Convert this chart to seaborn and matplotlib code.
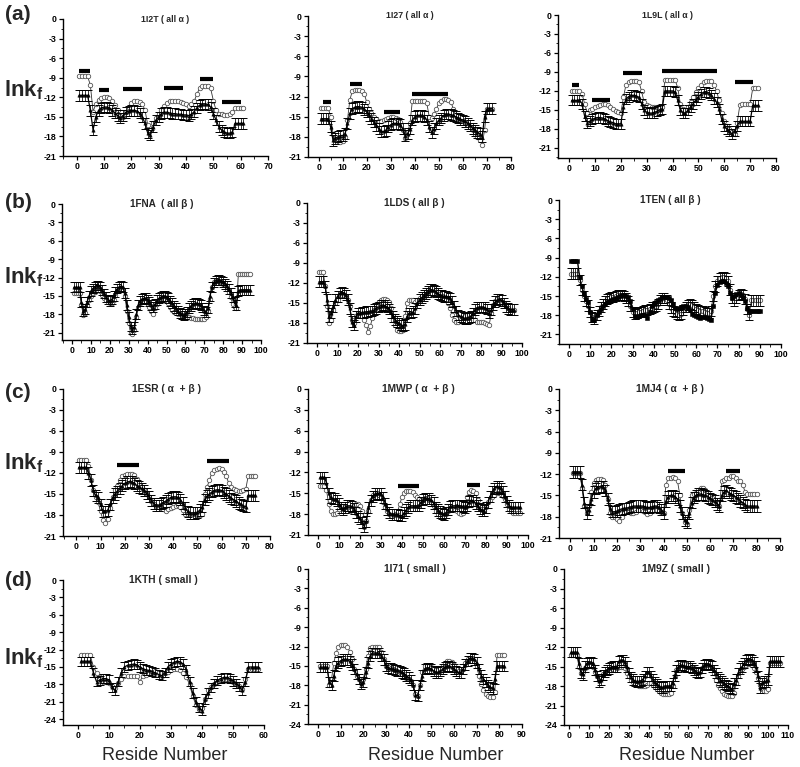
import numpy as np
import matplotlib
matplotlib.use("Agg")
import matplotlib.pyplot as plt
from matplotlib.ticker import MultipleLocator
import seaborn as sns

# ---------------- data (lnkf per residue) ----------------
c_1I2T = [-8.8,-8.8,-8.8,-8.8,-10.1,-14.2,-13.0,-12.4,-12.1,-12.0,
          -12.0,-12.1,-12.6,-13.2,-14.0,-14.8,-15.0,-14.2,-13.5,-12.9,
          -12.5,-12.5,-12.7,-13.0,-14.0,-16.2,-17.0,-16.0,-15.2,-14.5,
          -14.0,-13.3,-12.8,-12.6,-12.5,-12.5,-12.6,-12.7,-12.9,-13.1,
          -13.3,-13.0,-12.6,-11.5,-10.6,-10.2,-10.2,-10.3,-10.6,-12.5,
          -14.0,-14.6,-14.6,-14.7,-14.7,-14.6,-14.3,-13.6,-13.6,-13.6,-13.6]
e_1I2T = [-11.7,-11.7,-11.7,-11.7,-14.0,-17.0,-15.0,-14.0,-13.6,-13.5,
          -13.5,-13.6,-14.0,-14.4,-14.8,-15.2,-14.8,-14.3,-14.1,-14.0,
          -14.0,-14.1,-14.4,-15.0,-16.0,-17.5,-17.8,-16.5,-15.5,-15.0,
          -14.5,-14.3,-14.3,-14.4,-14.5,-14.5,-14.6,-14.6,-14.7,-14.7,
          -14.8,-14.6,-14.2,-13.6,-13.2,-13.0,-13.0,-13.1,-13.5,-14.5,
          -15.5,-16.5,-17.0,-17.3,-17.5,-17.5,-17.3,-16.0,-16.0,-16.0,-16.0]
bars_1I2T = [(1, 5, -7.9), (8, 12, -10.9), (17, 24, -10.8), (32, 39, -10.6), (45, 50, -9.2), (53, 60, -12.7)]

c_1I27 = [-13.7,-13.7,-13.7,-13.7,-15.0,-17.5,-18.3,-18.6,-18.7,-18.6,
          -18.0,-15.5,-12.5,-11.2,-11.0,-11.0,-11.0,-11.1,-11.6,-12.8,
          -13.8,-14.5,-15.0,-15.4,-15.6,-15.6,-15.5,-15.3,-15.2,-15.1,
          -15.1,-15.2,-15.4,-15.8,-17.0,-18.2,-17.3,-16.0,-12.6,-12.6,
          -12.6,-12.6,-12.6,-12.6,-13.0,-15.0,-15.2,-14.6,-13.8,-13.0,
          -12.6,-12.4,-12.4,-12.5,-12.8,-13.8,-14.8,-15.3,-15.6,-15.6,
          -15.8,-16.2,-16.6,-17.0,-17.5,-18.0,-18.5,-19.2,-17.0,-13.8,-13.8,-13.8]
e_1I27 = [-15.3,-15.3,-15.3,-15.3,-16.5,-18.5,-18.2,-18.0,-17.8,-17.8,
          -17.5,-16.0,-14.5,-13.8,-13.6,-13.5,-13.5,-13.6,-13.9,-14.3,
          -14.8,-15.3,-15.8,-16.3,-16.8,-17.2,-17.2,-17.0,-16.5,-16.2,
          -16.0,-16.0,-16.0,-16.2,-16.8,-17.8,-17.5,-16.8,-15.5,-15.0,
          -14.8,-14.8,-14.8,-15.0,-15.5,-16.5,-17.3,-16.8,-16.0,-15.5,
          -15.2,-14.8,-14.6,-14.6,-14.7,-14.8,-15.0,-15.2,-15.4,-15.5,
          -15.7,-16.0,-16.3,-16.7,-17.0,-17.3,-17.5,-18.0,-15.0,-13.8,-13.8,-13.8]
bars_1I27 = [(2, 5, -12.8), (13, 18, -10.1), (27, 34, -14.3), (39, 54, -11.6)]

c_1L9L = [-12.0,-12.0,-12.0,-12.0,-12.5,-14.0,-15.5,-15.0,-14.8,-14.6,
          -14.4,-14.2,-14.1,-14.0,-14.3,-14.6,-14.9,-15.2,-15.4,-15.5,
          -13.0,-11.0,-10.6,-10.4,-10.4,-10.4,-10.6,-12.0,-13.8,-14.3,
          -14.4,-14.5,-14.6,-14.6,-14.6,-14.5,-10.3,-10.3,-10.3,-10.3,
          -10.3,-11.5,-14.0,-14.8,-15.0,-14.5,-13.8,-13.0,-12.2,-11.5,
          -11.0,-10.6,-10.4,-10.4,-10.5,-11.0,-12.0,-13.5,-15.5,-16.8,
          -17.5,-18.0,-18.5,-18.8,-17.0,-14.3,-14.1,-14.1,-14.1,-14.1,-11.6,-11.6,-11.6]
e_1L9L = [-13.5,-13.5,-13.5,-13.5,-14.0,-16.0,-17.0,-16.8,-16.5,-16.3,
          -16.2,-16.2,-16.3,-16.5,-16.7,-16.9,-17.0,-17.2,-17.2,-17.2,
          -14.5,-13.3,-12.9,-12.7,-12.7,-12.8,-13.0,-14.0,-15.0,-15.4,
          -15.5,-15.5,-15.4,-15.2,-15.0,-14.8,-12.0,-12.0,-12.0,-12.0,
          -12.2,-13.5,-15.0,-15.5,-15.5,-15.0,-14.5,-14.0,-13.4,-12.9,
          -12.5,-12.2,-12.1,-12.3,-12.7,-13.2,-13.8,-14.8,-16.5,-17.5,
          -18.0,-18.4,-18.8,-18.3,-17.5,-16.8,-16.8,-16.8,-16.8,-16.8,-14.3,-14.3,-14.3]
bars_1L9L = [(1, 4, -11.0), (9, 16, -13.4), (21, 28, -9.1), (36, 57, -8.9), (64, 71, -10.6)]

c_1FNA = [-14.6,-14.6,-14.6,-14.6,-16.5,-18.2,-17.8,-16.5,-15.6,-15.0,
          -14.6,-14.3,-14.0,-14.0,-14.2,-14.8,-15.3,-15.7,-16.0,-16.2,
          -16.1,-15.6,-14.8,-14.2,-13.8,-13.7,-14.0,-15.0,-17.5,-19.5,
          -21.0,-21.2,-20.5,-18.5,-17.0,-16.2,-16.0,-15.9,-16.0,-16.3,
          -16.8,-17.5,-18.0,-17.0,-16.3,-15.8,-15.6,-15.4,-15.5,-15.8,
          -16.2,-16.8,-17.3,-17.6,-17.8,-17.9,-18.0,-18.2,-18.3,-18.3,
          -18.4,-18.5,-18.6,-18.6,-18.7,-18.7,-18.7,-18.8,-18.7,-18.8,
          -18.5,-17.5,-15.5,-13.5,-12.8,-12.6,-12.6,-12.6,-12.8,-13.0,
          -13.3,-13.8,-14.3,-15.2,-16.3,-16.8,-17.0,-11.5,-11.5,-11.5,
          -11.5,-11.5,-11.5,-11.5]
e_1FNA = [-13.6,-13.6,-13.6,-13.6,-16.0,-17.5,-17.2,-16.0,-15.0,-14.2,
          -13.8,-13.5,-13.3,-13.3,-13.5,-14.0,-14.6,-15.2,-15.6,-15.8,
          -15.6,-15.0,-14.3,-13.8,-13.5,-13.4,-13.6,-14.5,-16.5,-18.5,
          -20.0,-20.5,-20.0,-18.0,-16.5,-15.8,-15.5,-15.4,-15.4,-15.6,
          -15.9,-16.5,-16.8,-16.3,-15.7,-15.4,-15.2,-15.0,-15.0,-15.1,
          -15.4,-15.8,-16.2,-16.6,-17.0,-17.4,-17.8,-18.0,-18.2,-18.0,
          -17.6,-17.0,-16.6,-16.3,-16.2,-16.2,-16.3,-16.5,-16.9,-17.4,
          -17.6,-17.0,-15.0,-13.5,-12.8,-12.5,-12.4,-12.4,-12.5,-12.7,
          -13.0,-13.4,-13.9,-14.5,-15.2,-16.0,-16.5,-14.2,-14.0,-14.0,
          -14.0,-14.0,-14.0,-14.0]

c_1LDS = [-10.3,-10.3,-10.3,-12.5,-15.5,-18.0,-17.5,-16.0,-15.0,-14.5,
          -14.0,-13.8,-13.8,-14.0,-14.5,-15.5,-17.5,-18.0,-17.0,-16.5,
          -16.8,-17.0,-17.5,-18.3,-19.3,-18.5,-17.2,-16.0,-15.2,-14.8,
          -14.6,-14.4,-14.4,-14.5,-14.8,-15.8,-17.5,-18.3,-19.0,-19.2,
          -19.2,-19.0,-17.0,-15.0,-14.6,-14.6,-14.6,-14.8,-14.6,-14.3,
          -14.0,-13.6,-13.3,-13.0,-12.9,-12.8,-12.8,-13.0,-13.3,-13.6,
          -14.0,-14.2,-14.5,-15.0,-15.8,-16.8,-17.5,-17.8,-17.8,-17.6,
          -17.3,-17.0,-16.8,-16.6,-16.6,-17.0,-17.5,-17.8,-17.9,-17.9,
          -17.9,-18.0,-18.2,-18.3,-16.5,-15.3,-14.7,-14.4,-14.5,-14.8,
          -15.2,-15.5,-15.8,-16.0,-16.0,-16.0]
e_1LDS = [-11.8,-11.8,-11.8,-12.5,-14.5,-17.0,-16.5,-15.5,-14.5,-14.0,
          -13.5,-13.4,-13.5,-13.8,-14.5,-15.8,-17.8,-18.3,-17.0,-16.5,
          -16.5,-16.4,-16.4,-16.3,-16.3,-16.2,-16.2,-16.0,-15.8,-15.6,
          -15.4,-15.3,-15.4,-15.6,-15.9,-16.4,-17.0,-17.5,-17.8,-18.0,
          -18.3,-18.4,-18.2,-17.0,-16.5,-16.5,-16.3,-15.8,-15.0,-14.5,
          -14.2,-13.9,-13.6,-13.3,-13.0,-13.0,-13.1,-13.3,-13.6,-13.8,
          -13.9,-14.0,-14.0,-14.1,-14.3,-14.8,-15.5,-16.2,-16.8,-17.0,
          -17.2,-17.3,-17.3,-17.2,-17.0,-16.5,-16.0,-15.7,-15.6,-15.6,
          -15.6,-15.7,-15.9,-16.5,-16.0,-15.3,-14.8,-14.5,-14.4,-14.6,
          -15.0,-15.5,-15.8,-16.0,-16.0,-16.0]

c_1TEN = [-9.5,-9.5,-9.5,-9.5,-12.0,-13.5,-14.5,-15.5,-16.0,-17.5,
          -18.8,-18.8,-18.0,-17.5,-17.0,-16.6,-16.2,-16.0,-15.8,-15.6,
          -15.5,-15.3,-15.1,-15.0,-14.9,-14.9,-15.0,-15.2,-15.8,-17.0,
          -18.2,-18.3,-18.2,-18.0,-17.9,-18.0,-18.5,-17.5,-16.5,-16.2,
          -16.0,-15.7,-15.5,-15.2,-15.2,-15.2,-15.3,-15.6,-16.3,-16.8,
          -17.0,-16.8,-16.7,-16.6,-16.6,-16.7,-17.2,-17.8,-18.0,-18.2,
          -18.3,-18.4,-18.3,-18.3,-18.4,-18.6,-18.7,-16.5,-14.5,-13.3,
          -12.8,-12.6,-12.6,-12.9,-13.5,-14.5,-15.3,-15.0,-14.7,-14.6,
          -14.8,-15.2,-15.8,-16.8,-17.4,-17.4,-17.4,-17.4,-17.4,-17.4]
e_1TEN = [-11.5,-11.5,-11.5,-11.5,-12.5,-14.0,-15.0,-15.8,-16.5,-17.5,
          -18.3,-18.5,-18.0,-17.3,-16.7,-16.2,-15.8,-15.5,-15.3,-15.2,
          -15.1,-15.0,-14.8,-14.8,-14.8,-15.0,-15.3,-15.8,-16.5,-17.5,
          -17.8,-17.6,-17.5,-17.5,-17.3,-17.2,-17.2,-17.0,-16.8,-16.7,
          -16.6,-16.2,-15.6,-15.3,-15.3,-15.6,-16.3,-16.8,-17.3,-17.5,
          -17.8,-18.0,-17.8,-17.2,-16.7,-16.4,-16.3,-16.4,-16.7,-17.0,
          -17.2,-17.3,-17.4,-17.5,-17.6,-17.6,-17.3,-15.0,-13.5,-12.6,
          -12.2,-12.0,-12.0,-12.2,-12.7,-14.0,-15.3,-15.8,-15.3,-14.8,
          -14.7,-14.8,-15.5,-17.0,-18.0,-15.7,-15.7,-15.7,-15.7,-15.7]

c_1ESR = [-10.2,-10.2,-10.2,-10.2,-11.0,-13.0,-14.5,-15.5,-16.2,-17.5,
          -18.7,-19.2,-18.5,-17.0,-15.5,-14.5,-13.8,-13.0,-12.5,-12.3,
          -12.2,-12.2,-12.2,-12.3,-12.8,-13.5,-14.0,-14.5,-15.0,-15.5,
          -16.0,-16.5,-16.7,-16.8,-17.0,-17.2,-17.5,-17.2,-17.0,-16.8,
          -16.7,-16.6,-16.8,-17.3,-17.8,-17.9,-17.8,-17.8,-17.9,-18.0,
          -18.0,-17.8,-15.0,-14.0,-13.0,-12.0,-11.6,-11.4,-11.3,-11.4,
          -11.8,-12.5,-13.5,-14.0,-14.3,-14.5,-14.6,-14.6,-14.5,-14.3,
          -12.4,-12.4,-12.4,-12.4]
e_1ESR = [-11.2,-11.2,-11.2,-11.2,-12.0,-13.0,-14.5,-15.2,-15.5,-16.5,
          -17.5,-17.5,-17.3,-16.5,-15.5,-15.0,-14.6,-14.2,-13.8,-13.5,
          -13.3,-13.2,-13.3,-13.5,-13.8,-14.0,-14.2,-14.5,-14.9,-15.4,
          -15.9,-16.4,-16.6,-16.6,-16.4,-16.2,-16.0,-15.7,-15.5,-15.4,
          -15.4,-15.5,-15.8,-16.3,-17.0,-17.5,-17.7,-17.7,-17.7,-17.6,
          -17.3,-16.8,-15.8,-15.3,-15.0,-14.7,-14.5,-14.4,-14.4,-14.5,
          -14.8,-15.0,-15.3,-15.6,-15.8,-16.0,-16.3,-16.5,-16.7,-16.8,
          -15.2,-15.2,-15.2,-15.2]
bars_1ESR = [(17, 26, -10.9), (54, 63, -10.3)]

c_1MWP = [-14.0,-14.0,-14.0,-14.5,-16.5,-17.5,-18.0,-18.0,-17.8,-17.2,
          -16.8,-16.8,-17.0,-17.5,-17.6,-17.3,-16.8,-16.5,-16.5,-16.8,
          -17.5,-18.5,-19.0,-17.5,-16.0,-15.3,-15.0,-15.0,-15.2,-15.6,
          -16.2,-17.0,-17.6,-18.0,-18.2,-18.1,-18.0,-17.5,-16.5,-15.5,
          -14.9,-14.7,-14.6,-14.6,-14.8,-15.2,-15.5,-15.8,-16.0,-15.9,
          -15.7,-15.7,-15.9,-16.3,-16.8,-17.5,-18.0,-18.3,-18.5,-18.4,
          -18.0,-17.5,-17.3,-17.3,-17.4,-17.6,-17.8,-18.0,-17.8,-17.0,
          -15.5,-14.8,-14.5,-14.6,-15.0,-16.0,-16.8,-17.3,-17.5,-16.8,
          -16.3,-16.0,-15.6,-15.2,-15.0,-15.0,-15.1,-15.4,-15.8,-16.5,
          -17.2,-17.6,-17.8,-17.8,-17.8,-17.8]
e_1MWP = [-12.7,-12.7,-12.7,-13.5,-15.0,-15.6,-15.8,-15.8,-16.0,-16.5,
          -17.0,-17.3,-17.0,-16.8,-16.8,-16.9,-17.2,-17.8,-18.3,-18.6,
          -19.2,-19.8,-19.0,-17.0,-16.0,-15.4,-15.1,-15.0,-15.0,-15.1,
          -15.6,-16.5,-17.3,-17.8,-18.0,-18.0,-18.0,-18.1,-18.2,-18.2,
          -17.8,-17.4,-17.0,-16.8,-16.8,-16.8,-16.8,-16.7,-16.3,-15.9,
          -15.7,-15.7,-15.8,-16.0,-16.4,-17.0,-17.4,-17.7,-17.9,-18.0,
          -17.8,-17.3,-16.9,-16.8,-16.8,-16.7,-16.8,-16.8,-16.9,-17.0,
          -16.8,-16.2,-16.0,-16.1,-16.4,-16.8,-17.2,-17.4,-17.5,-17.0,
          -16.3,-15.4,-14.8,-14.3,-14.0,-14.1,-14.3,-14.8,-15.5,-16.2,
          -16.8,-17.0,-17.0,-17.0,-17.0,-17.0]
bars_1MWP = [(38, 48, -14.0), (71, 77, -13.8)]

c_1MJ4 = [-11.8,-11.8,-11.8,-11.8,-14.0,-16.5,-17.5,-16.5,-14.5,-13.3,
          -12.8,-12.7,-12.7,-12.8,-13.5,-15.5,-17.5,-18.0,-18.0,-18.3,
          -18.6,-18.0,-17.5,-17.3,-17.4,-17.5,-17.5,-17.3,-17.0,-17.0,
          -17.2,-17.4,-17.6,-17.5,-17.2,-17.0,-17.0,-17.2,-17.4,-17.5,
          -13.5,-12.6,-12.5,-12.4,-12.5,-13.0,-15.0,-17.5,-18.8,-19.0,
          -17.0,-15.0,-14.8,-14.6,-14.2,-13.9,-14.0,-14.3,-14.7,-15.0,
          -15.3,-15.6,-16.0,-16.5,-13.0,-12.8,-12.6,-12.5,-12.3,-12.2,
          -12.6,-12.9,-13.0,-13.5,-14.5,-14.8,-14.8,-14.8,-14.8,-14.8]
e_1MJ4 = [-11.7,-11.7,-11.7,-11.7,-13.5,-16.0,-17.5,-17.0,-15.5,-14.5,
          -14.0,-13.8,-13.7,-13.8,-14.3,-15.5,-16.8,-17.3,-17.3,-17.2,
          -17.0,-16.9,-16.8,-16.8,-16.7,-16.6,-16.5,-16.5,-16.5,-16.5,
          -16.5,-16.6,-16.7,-16.7,-16.6,-16.5,-16.5,-16.7,-17.0,-17.5,
          -15.8,-15.2,-15.0,-15.0,-15.2,-15.5,-16.5,-17.5,-18.5,-18.8,
          -17.5,-16.0,-15.3,-15.0,-14.8,-14.8,-14.9,-15.0,-15.2,-15.4,
          -15.6,-15.8,-16.2,-16.5,-15.0,-14.5,-14.3,-14.6,-14.8,-15.0,
          -15.2,-15.4,-15.8,-16.0,-16.3,-16.5,-16.5,-16.5,-16.5,-16.5]
bars_1MJ4 = [(42, 49, -11.5), (67, 73, -11.5)]

c_1KTH = [-13.0,-13.0,-13.0,-13.0,-15.0,-16.0,-16.8,-17.5,-17.6,-17.8,
          -18.2,-18.6,-17.8,-17.0,-16.6,-16.5,-16.5,-16.5,-16.6,-17.5,
          -16.5,-16.3,-16.0,-15.8,-15.7,-15.8,-16.0,-16.0,-15.9,-15.6,
          -15.4,-15.4,-15.6,-16.0,-16.8,-18.0,-20.0,-21.5,-22.3,-22.0,
          -20.5,-19.0,-18.5,-18.0,-17.5,-17.2,-17.0,-17.0,-17.2,-17.6,
          -18.0,-18.3,-18.8,-17.0,-15.3,-15.3,-15.3,-15.3]
e_1KTH = [-14.0,-14.0,-14.0,-14.0,-16.0,-17.5,-17.3,-17.0,-17.0,-17.2,
          -18.5,-19.0,-17.5,-16.0,-15.0,-14.7,-14.6,-14.5,-14.6,-15.0,
          -15.3,-15.5,-15.6,-15.8,-16.0,-16.3,-16.5,-16.0,-15.0,-14.5,
          -14.2,-14.0,-14.1,-14.5,-15.5,-17.5,-19.5,-21.0,-22.0,-22.5,
          -20.5,-19.5,-18.5,-17.8,-17.3,-17.0,-16.8,-16.8,-17.0,-17.4,
          -17.8,-18.3,-19.0,-17.5,-15.0,-15.0,-15.0,-15.0]

c_1I71 = [-15.0,-15.0,-15.0,-15.0,-18.0,-17.0,-14.5,-13.0,-12.0,-11.7,
          -11.7,-11.8,-12.0,-12.8,-14.0,-15.5,-16.5,-17.0,-17.5,-17.0,
          -15.5,-13.5,-12.2,-12.0,-12.0,-12.0,-12.0,-12.8,-14.0,-15.0,
          -15.2,-15.3,-15.5,-15.6,-15.8,-16.0,-16.2,-16.5,-16.8,-17.0,
          -17.3,-18.0,-19.3,-19.6,-18.0,-16.0,-15.0,-15.0,-15.0,-15.1,
          -15.4,-15.6,-15.6,-15.3,-15.0,-14.5,-14.3,-14.2,-14.4,-14.8,
          -15.3,-15.8,-16.0,-15.5,-14.6,-14.0,-13.8,-13.8,-14.2,-15.0,
          -16.5,-17.8,-18.8,-19.3,-19.6,-19.8,-19.8,-19.0,-13.3,-13.3,
          -13.3,-13.3]
e_1I71 = [-15.2,-15.2,-15.2,-15.2,-17.5,-18.0,-16.5,-15.0,-14.5,-14.2,
          -14.0,-14.0,-14.0,-14.3,-14.8,-15.5,-16.3,-17.0,-17.8,-17.5,
          -16.0,-14.5,-13.5,-13.0,-13.0,-13.0,-13.0,-13.5,-14.0,-15.0,
          -15.3,-15.4,-15.5,-15.6,-15.7,-15.8,-16.0,-16.2,-16.5,-16.8,
          -17.2,-18.0,-19.5,-19.6,-18.0,-16.5,-15.5,-15.3,-15.3,-15.5,
          -15.8,-16.0,-16.0,-15.8,-15.5,-15.2,-15.0,-15.0,-15.2,-15.5,
          -15.8,-16.0,-16.0,-15.5,-14.8,-14.2,-13.8,-13.8,-14.0,-14.5,
          -15.5,-16.5,-17.0,-17.5,-18.0,-18.3,-18.5,-17.0,-15.0,-15.0,
          -15.0,-15.0]

c_1M9Z = [-13.3,-13.3,-13.3,-13.3,-15.0,-16.0,-15.8,-15.2,-15.0,-14.8,
          -14.8,-15.0,-15.8,-16.5,-17.0,-16.6,-16.2,-16.0,-15.8,-15.6,
          -15.5,-15.4,-15.5,-15.3,-15.0,-15.0,-15.0,-15.3,-16.0,-16.5,
          -17.0,-17.4,-17.6,-17.8,-18.0,-18.0,-18.0,-18.0,-17.8,-17.5,
          -17.5,-17.8,-18.2,-18.5,-18.8,-19.0,-19.2,-19.3,-19.3,-19.3,
          -19.0,-18.0,-16.5,-15.5,-15.0,-14.8,-14.6,-14.6,-14.6,-14.7,
          -14.8,-15.0,-15.3,-15.5,-15.8,-15.6,-15.2,-14.9,-14.8,-14.8,
          -15.0,-15.3,-16.0,-17.0,-17.8,-18.3,-18.8,-19.2,-19.4,-19.5,
          -19.6,-19.5,-19.0,-17.5,-16.5,-15.8,-15.4,-15.0,-14.8,-14.6,
          -14.6,-14.8,-15.2,-15.8,-16.8,-17.8,-18.5,-18.8,-18.8,-18.5,
          -14.5,-14.5,-14.5,-14.5,-14.5,-14.5]
e_1M9Z = [-12.8,-12.8,-12.8,-12.8,-14.5,-16.0,-16.2,-15.0,-14.5,-14.3,
          -14.3,-14.5,-15.5,-16.5,-17.3,-17.0,-16.3,-15.8,-15.5,-15.3,
          -15.1,-15.0,-15.0,-15.0,-14.2,-14.0,-14.0,-14.3,-15.0,-16.0,
          -16.6,-17.0,-17.2,-17.3,-17.3,-17.2,-17.0,-16.5,-15.8,-15.8,
          -16.5,-17.0,-17.4,-17.7,-18.0,-18.2,-18.2,-18.0,-18.0,-18.0,
          -18.0,-17.5,-16.5,-15.5,-15.0,-14.8,-14.8,-14.9,-15.0,-15.0,
          -15.0,-15.2,-15.5,-15.8,-16.0,-15.8,-15.2,-14.8,-14.6,-14.6,
          -14.8,-15.0,-15.5,-16.0,-16.6,-17.0,-17.3,-17.6,-17.8,-18.0,
          -18.3,-18.5,-17.5,-17.0,-16.0,-15.3,-15.0,-14.5,-14.0,-13.8,
          -13.8,-14.0,-14.3,-15.0,-16.5,-18.3,-17.5,-17.3,-17.3,-17.0,
          -14.2,-14.2,-14.2,-14.2,-14.2,-14.2]

titles = ["1I2T ( all \u03b1 )", "1I27 ( all \u03b1 )", "1L9L ( all \u03b1 )",
          "1FNA  ( all \u03b2 )", "1LDS ( all \u03b2 )", "1TEN ( all \u03b2 )",
          "1ESR ( \u03b1  + \u03b2 )", "1MWP ( \u03b1  + \u03b2 )", "1MJ4 ( \u03b1  + \u03b2 )",
          "1KTH ( small )", "1I71 ( small )", "1M9Z ( small )"]
row_letters = ["(a)", "(b)", "(c)", "(d)"]
xlabels = ["Reside Number", "Residue Number", "Residue Number"]
err = 0.8

# ---------------- styling / layout ----------------
sns.set_theme(style="ticks")
plt.rcParams["font.family"] = ["Liberation Sans", "DejaVu Sans"]
plt.rcParams["mathtext.fontset"] = "custom"
plt.rcParams["mathtext.rm"] = "Liberation Sans"
plt.rcParams["mathtext.bf"] = "Liberation Sans:bold"
plt.rcParams["mathtext.it"] = "Liberation Sans:italic"
plt.rcParams["axes.linewidth"] = 1.0

W, H = 800, 767
fig = plt.figure(figsize=(W / 100, H / 100), dpi=100)
fig.patch.set_facecolor("white")

# (circ, exp, bars, xmin, xmax, ybottom, last y tick, pixel box x0,x1,ytop,ybot, swapped style)
panels = [
    (c_1I2T, e_1I2T, bars_1I2T, -5, 70, -21, -21, (63, 268, 19, 156), False),
    (c_1I27, e_1I27, bars_1I27, -4.4, 80, -21, -21, (308, 511, 16, 157), False),
    (c_1L9L, e_1L9L, bars_1L9L, -4.3, 80, -22.6, -21, (558, 776, 15, 158), False),
    (c_1FNA, e_1FNA, [], -5.3, 100, -22.2, -21, (62, 261, 204, 340), False),
    (c_1LDS, e_1LDS, [], -4.9, 100, -21, -21, (307, 522, 203, 343), False),
    (c_1TEN, e_1TEN, [], -4.7, 100, -22.5, -21, (559, 781, 200, 344), True),
    (c_1ESR, e_1ESR, bars_1ESR, -5.5, 80, -21, -21, (63, 270, 389, 536), False),
    (c_1MWP, e_1MWP, bars_1MWP, -4.8, 100, -21, -21, (308, 528, 389, 535), False),
    (c_1MJ4, e_1MJ4, bars_1MJ4, -4.9, 90, -21, -21, (559, 780, 389, 538), False),
    (c_1KTH, e_1KTH, [], -4.8, 60, -25, -24, (63, 264, 580, 725), False),
    (c_1I71, e_1I71, [], -4.4, 90, -24, -24, (308, 522, 569, 724), False),
    (c_1M9Z, e_1M9Z, [], -2.5, 110, -24, -24, (564, 788, 569, 725), False),
]
title_sizes = [6.3, 6.3, 6.3, 7.2, 7.2, 7.2, 7.4, 7.4, 7.4, 7.4, 7.4, 7.4]


def fx(x):
    return x / W


def fy(y):
    return 1 - y / H


for i, (circ, exp, bars, xmin, xmax, ybot, ytb, box, swapped) in enumerate(panels):
    x0, x1, yt, yb = box
    ax = fig.add_axes([fx(x0), fy(yb), (x1 - x0) / W, (yb - yt) / H])
    ax.set_facecolor("white")
    xc = np.arange(1, len(circ) + 1)
    xe = np.arange(1, len(exp) + 1)
    if not swapped:
        sns.lineplot(x=xc, y=circ, ax=ax, color="#333333", lw=0.6, marker="o", ms=3.2,
                     mfc="white", mec="#555555", mew=0.6, errorbar=None, zorder=2)
        ax.errorbar(xe, exp, yerr=err, fmt="none", ecolor="black", elinewidth=0.55,
                    capsize=2.6, capthick=0.7, zorder=3)
        sns.lineplot(x=xe, y=exp, ax=ax, color="black", lw=0.9, marker="^", ms=2.4,
                     mfc="black", mec="black", mew=0.4, errorbar=None, zorder=4)
    else:
        ax.errorbar(xe, exp, yerr=err, fmt="none", ecolor="black", elinewidth=0.55,
                    capsize=2.6, capthick=0.7, zorder=3)
        sns.lineplot(x=xe, y=exp, ax=ax, color="#333333", lw=0.6, marker="o", ms=3.2,
                     mfc="white", mec="#555555", mew=0.6, errorbar=None, zorder=2)
        sns.lineplot(x=xc, y=circ, ax=ax, color="black", lw=1.0, marker="s", ms=2.8,
                     mfc="black", mec="black", mew=0.4, errorbar=None, zorder=4)
    for (s, e, yv) in bars:
        ax.hlines(yv, s, e, color="black", lw=3.0, zorder=5)

    ax.set_xlim(xmin, xmax)
    ax.set_ylim(ybot, 0)
    xt = list(range(0, int(xmax) + 1, 10))
    yt_ = list(range(0, ytb - 1, -3))
    ax.set_xticks(xt)
    ax.set_xticklabels([str(t) for t in xt], fontweight="bold", fontsize=6.3)
    ax.set_yticks(yt_)
    ax.set_yticklabels([str(t) for t in yt_], fontweight="bold", fontsize=6.3)
    ax.xaxis.set_minor_locator(MultipleLocator(5))
    ax.yaxis.set_minor_locator(MultipleLocator(1.5))
    ax.tick_params(which="major", direction="out", length=3, width=0.9, pad=1.5, colors="black")
    ax.tick_params(which="minor", direction="out", length=1.8, width=0.7)
    ax.set_xlabel("")
    ax.set_ylabel("")
    sns.despine(ax=ax)
    for sp in ("left", "bottom"):
        ax.spines[sp].set_color("black")
        ax.spines[sp].set_linewidth(1.0)

    fig.text(fx((x0 + x1) / 2), fy(yt), titles[i], ha="center", va="center",
             fontsize=title_sizes[i], fontweight="bold")

# row letters and y-labels
for r, (ly, ky) in enumerate([(15, 90), (203, 277), (392, 463), (580, 658)]):
    fig.text(fx(5), fy(ly), row_letters[r], ha="left", va="center", fontsize=15, fontweight="bold")
    fig.text(fx(4), fy(ky), r"$\mathbf{lnk}_{\mathbf{f}}$", ha="left", va="center", fontsize=16)

# bottom x labels
for xc_, lab in zip([165, 436, 687], xlabels):
    fig.text(fx(xc_), fy(756), lab, ha="center", va="center", fontsize=13)

fig.savefig("out.png", dpi=100, facecolor="white")
